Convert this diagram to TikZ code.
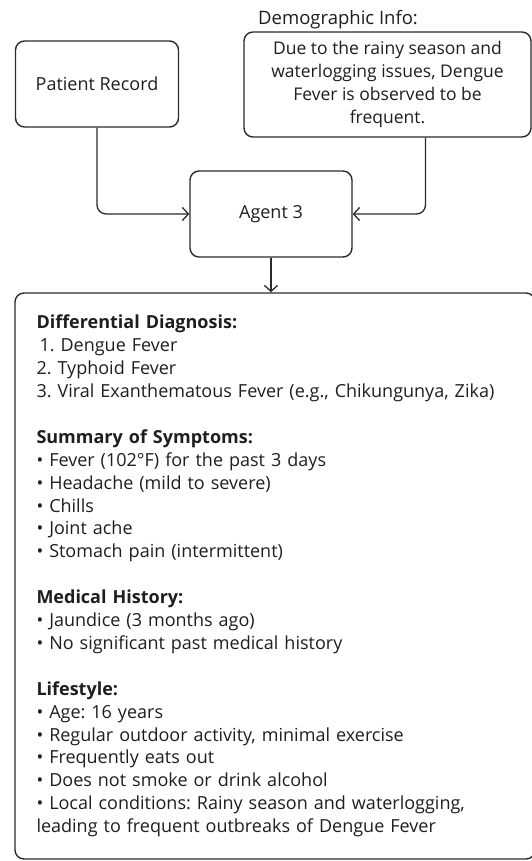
\documentclass[tikz,border=0pt]{standalone}
\usepackage{fontspec}
\setmainfont{Open Sans}
\usetikzlibrary{arrows.meta, positioning}
\definecolor{boxline}{HTML}{2B2B2B}
\definecolor{textdark}{HTML}{1E1E1E}
\frenchspacing

\begin{document}
\begin{tikzpicture}[x=1pt, y=-1pt,
      box/.style={draw=boxline, line width=1.4pt, rounded corners=9pt, align=center,
         text=textdark, font=\fontsize{18}{22.9}\selectfont},
      link/.style={-{Straight Barb[length=6pt, width=13pt]}, draw=boxline,
         line width=1.3pt, rounded corners=9pt}]
      % Frame
      \useasboundingbox (0,0) rectangle (532,861);
      % Inputs
      \node[box, minimum width=163pt, minimum height=86pt] (record) at (97,84) {Patient Record};
      \node[box, minimum width=287pt, minimum height=105pt, font=\fontsize{17.5}{22.9}\selectfont]
         (demo) at (387.5,84.5)
         {Due to the rainy season and\\waterlogging issues, Dengue\\Fever is observed to be\\frequent.};
      \node[font=\fontsize{18.5}{20}\selectfont, text=textdark, anchor=south west, inner sep=0pt]
         (demotitle) at (258,29) {Demographic Info:};
      % Agent
      \node[box, minimum width=162pt, minimum height=86pt] (agent) at (271,214) {Agent 3};
      % Output summary
      \node[box, align=left, text width=477pt, minimum width=520pt, minimum height=566pt,
         inner xsep=20pt] (summary) at (275,576) {%
         \textbf{Differential Diagnosis:}\\
         \hspace{3pt}1. Dengue Fever\\
         2. Typhoid Fever\\
         3. Viral Exanthematous Fever (e.g., Chikungunya, Zika)\\[22.9pt]
         \textbf{Summary of Symptoms:}\\
         • Fever (102°F) for the past 3 days\\
         • Headache (mild to severe)\\
         • Chills\\
         • Joint ache\\
         • Stomach pain (intermittent)\\[22.9pt]
         \textbf{Medical History:}\\
         • Jaundice (3 months ago)\\
         • No significant past medical history\\[22.9pt]
         \textbf{Lifestyle:}\\
         • Age: 16 years\\
         • Regular outdoor activity, minimal exercise\\
         • Frequently eats out\\
         • Does not smoke or drink alcohol\\
         • Local conditions: Rainy season and waterlogging,\\
         leading to frequent outbreaks of Dengue Fever};
      % Connectors
      \draw[link] (record.south) |- (agent.west);
      \draw[link] ([xshift=38pt]demo.south) |- (agent.east);
      \draw[link] (agent.south) -- (agent.south |- summary.north);
   \end{tikzpicture}
\end{document}
